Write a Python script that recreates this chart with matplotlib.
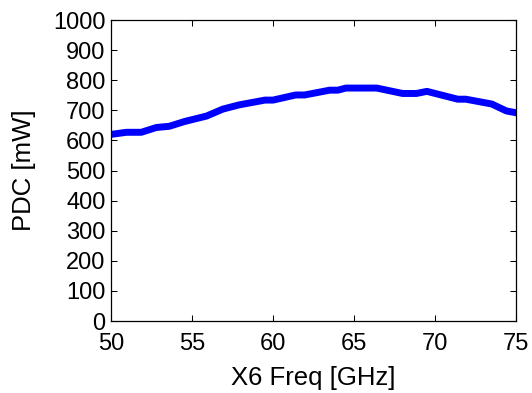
import matplotlib
matplotlib.use("Agg")
import matplotlib.pyplot as plt

# PDC vs X6 frequency
freq_ghz = [50, 50.95, 51.87, 52.8, 53.6, 54.55, 55.9, 56.9, 57.9, 59.5, 60.0,
            61.4, 61.95, 63.5, 64.0, 64.5, 66.4, 68.0, 68.85, 69.5, 71.4,
            71.9, 73.5, 74.4, 75]
pdc_mw = [620, 627, 627, 643, 647, 663, 681, 704, 718, 734, 734,
          751, 751, 767, 767, 774, 774, 756, 756, 763, 737,
          737, 721, 698, 692]

x_ticks = [50, 55, 60, 65, 70, 75]
y_ticks = list(range(0, 1001, 100))

plt.rcParams["font.family"] = ["Liberation Sans", "DejaVu Sans"]

fig = plt.figure(figsize=(5.32, 3.93), dpi=100)
ax = fig.add_axes([0.2086, 0.1832, 0.7614, 0.7658])

ax.plot(freq_ghz, pdc_mw, color="#0000ff", linewidth=5, solid_joinstyle="round")

ax.set_xlim(50, 75)
ax.set_ylim(0, 1000)
ax.set_xticks(x_ticks)
ax.set_yticks(y_ticks)
ax.tick_params(direction="in", length=4, width=0.75, top=True, right=True,
               labelsize=17)
ax.tick_params(axis="x", pad=8.5)
ax.tick_params(axis="y", pad=4)
for sp in ax.spines.values():
    sp.set_linewidth(0.9)

ax.set_xlabel("X6 Freq [GHz]", fontsize=18.5, labelpad=8)
ax.set_ylabel("PDC [mW]", fontsize=18.5, labelpad=12)

fig.savefig("out.png", dpi=100)
